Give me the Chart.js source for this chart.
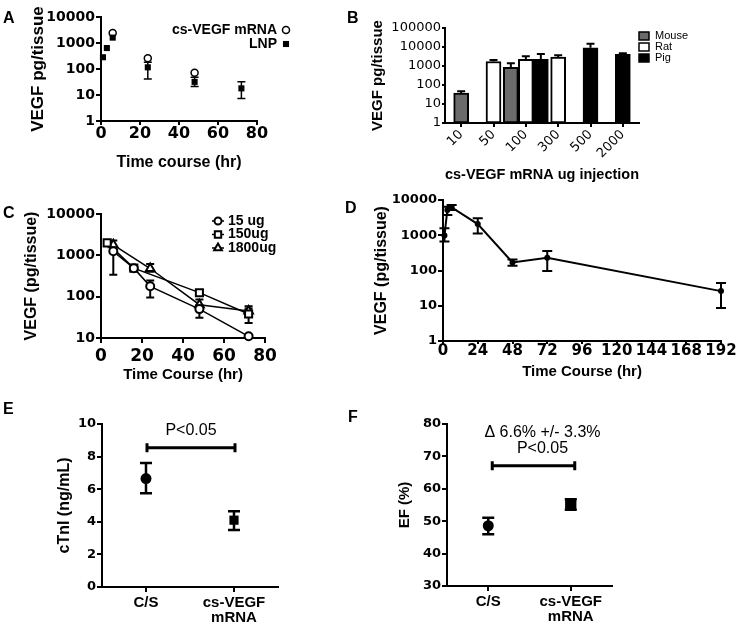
<!DOCTYPE html>
<html>
<head>
<meta charset="utf-8">
<script src="https://cdn.jsdelivr.net/npm/chart.js@4.4.1/dist/chart.umd.min.js"></script>
<style>
  html, body { margin: 0; padding: 0; background: #fff; overflow: hidden; }
  #wrap { position: relative; width: 736px; height: 627px; overflow: hidden; background: #fff; }
  #wrap canvas { position: absolute; left: 0; top: 0; }
  .tag { position: absolute; font: bold 16px Arial, "Liberation Sans", sans-serif; line-height: 16px; color: #000; }
</style>
</head>
<body>
<div id="wrap">
  <canvas id="cA" width="736" height="627"></canvas>
  <canvas id="cB" width="736" height="627"></canvas>
  <canvas id="cC" width="736" height="627"></canvas>
  <canvas id="cD" width="760" height="627"></canvas>
  <canvas id="cE" width="736" height="627"></canvas>
  <canvas id="cF" width="736" height="627"></canvas>
  <div class="tag" style="left:3px;top:10px">A</div>
  <div class="tag" style="left:347px;top:10px">B</div>
  <div class="tag" style="left:3px;top:205px">C</div>
  <div class="tag" style="left:345px;top:200px">D</div>
  <div class="tag" style="left:3px;top:401px">E</div>
  <div class="tag" style="left:348px;top:409px">F</div>
</div>
<script>
// ---- A: time course, two formulations ----
var timeA = [1, 3, 6, 24, 48, 72];
var lnpA = [283, 640, 1610, 116, 32, 18];
var lnpLoA = [null, null, null, 41, 21, 7.4];
var lnpHiA = [null, null, null, 182, 48, 32];
var mrnaTimeA = [6, 24, 48];
var mrnaA = [2450, 260, 72];
var logTicksA = [1, 10, 100, 1000, 10000];

// ---- B: dose per species ----
var dosesB = ['10', '50', '100', '300', '500', '2000'];
var mouseB = [38, null, 860, null, null, null];
var mouseHiB = [47, null, 1400, null, null, null];
var ratB = [null, 1730, 2230, 2950, null, null];
var ratHiB = [null, 2040, 3220, 3640, null, null];
var pigB = [null, null, 2230, null, 9100, 4130];
var pigHiB = [null, null, 4300, null, 14800, 4650];
var logTicksB = [1, 10, 100, 1000, 10000, 100000];

// ---- C: three doses over time ----
var time15C = [6, 16, 24, 48, 72];
var v15C = [1250, 490, 178, 50, 11];
var lo15C = [340, 420, 95, 31, null];
var hi15C = [1600, 560, 245, 63, null];
var time150C = [3, 16, 48, 72];
var v150C = [2000, 490, 125, 38];
var lo150C = [1800, 420, 105, 23];
var hi150C = [2200, 570, 145, 52];
var time1800C = [6, 24, 48, 72];
var v1800C = [1800, 480, 64, 45];
var lo1800C = [1400, 400, 48, 36];
var hi1800C = [2300, 620, 85, 59];
var logTicksC = [10, 100, 1000, 10000];

// ---- D: long time course ----
var timeD = [1, 3, 6, 24, 48, 72, 192];
var vegfD = [980, 5200, 6200, 2080, 170, 230, 26];
var loD = [660, 3750, 5200, 1130, 136, 96, 8.6];
var hiD = [1580, 6450, 7200, 3020, 205, 355, 44];
var logTicksD = [1, 10, 100, 1000, 10000];

// ---- E / F: control vs treated ----
var groups = ['C/S', 'cs-VEGF mRNA'];
var ctniE = [6.65, 4.1];
var ctniLoE = [5.75, 3.5];
var ctniHiE = [7.6, 4.65];
var efF = [48.6, 55.2];
var efLoF = [46, 53.5];
var efHiF = [51.1, 56.8];

var SANS = 'Arial, "Liberation Sans", sans-serif';
var NUM = '"DejaVu Sans", sans-serif';

Chart.defaults.font.family = SANS;
Chart.defaults.color = '#000';
Chart.defaults.animation = false;
Chart.defaults.responsive = false;
Chart.defaults.events = [];
Chart.defaults.plugins.legend.display = false;
Chart.defaults.plugins.tooltip.enabled = false;

function pts(xs, ys) {
  return xs.map(function (x, i) { return { x: x, y: ys[i] }; });
}

function mark(ctx, style, r, x, y) {
  ctx.beginPath();
  if (style === 'rect') {
    var h = r * Math.SQRT1_2;
    ctx.rect(x - h, y - h, 2 * h, 2 * h);
  } else if (style === 'triangle') {
    ctx.moveTo(x, y - r);
    ctx.lineTo(x + r * 0.866, y + r * 0.5);
    ctx.lineTo(x - r * 0.866, y + r * 0.5);
    ctx.closePath();
  } else {
    ctx.arc(x, y, r, 0, Math.PI * 2);
  }
  ctx.fill();
  ctx.stroke();
}

// error bars read from errLo / errHi on each dataset
var errorBars = {
  id: 'errorBars',
  beforeDatasetsDraw: function (chart) {
    var ctx = chart.ctx;
    chart.data.datasets.forEach(function (ds, di) {
      if (!ds.errHi) return;
      var meta = chart.getDatasetMeta(di);
      var ys = chart.scales[meta.yAxisID];
      var c = ds.errCap || 4;
      ctx.save();
      ctx.strokeStyle = '#000';
      ctx.lineWidth = ds.errWidth || 1.5;
      meta.data.forEach(function (el, i) {
        var d = ds.data[i];
        var val = (d !== null && typeof d === 'object') ? d.y : d;
        if (val == null || ds.errHi[i] == null) return;
        var lo = ds.errLo && ds.errLo[i] != null ? ds.errLo[i] : val;
        var y1 = ys.getPixelForValue(lo), y2 = ys.getPixelForValue(ds.errHi[i]);
        ctx.beginPath();
        ctx.moveTo(el.x, y1); ctx.lineTo(el.x, y2);
        ctx.moveTo(el.x - c, y2); ctx.lineTo(el.x + c, y2);
        if (lo !== val) { ctx.moveTo(el.x - c, y1); ctx.lineTo(el.x + c, y1); }
        ctx.stroke();
      });
      ctx.restore();
    });
  }
};

// small hand-placed keys in the style of the figure
var keyBox = {
  id: 'keyBox',
  afterDraw: function (chart, args, o) {
    if (!o.kind) return;
    var ctx = chart.ctx;
    ctx.save();
    ctx.font = o.font;
    ctx.textBaseline = 'middle';
    chart.data.datasets.forEach(function (ds, i) {
      var y = o.y + i * o.gap;
      ctx.lineWidth = 1.5;
      ctx.strokeStyle = '#000';
      if (o.kind === 'box') {
        ctx.fillStyle = ds.backgroundColor;
        ctx.fillRect(o.x, y - 4, 10, 8);
        ctx.strokeRect(o.x, y - 4, 10, 8);
        ctx.fillStyle = '#000';
        ctx.textAlign = 'left';
        ctx.fillText(ds.label, o.x + 16, y);
      } else if (o.kind === 'right') {
        ctx.fillStyle = '#000';
        ctx.textAlign = 'right';
        ctx.fillText(ds.label, o.x, y);
        ctx.fillStyle = ds.pointBackgroundColor;
        ctx.lineWidth = ds.pointBorderWidth || 0.01;
        mark(ctx, ds.pointStyle, ds.pointRadius, o.x + 9, y);
      } else {
        ctx.beginPath();
        ctx.moveTo(o.x - 6, y); ctx.lineTo(o.x + 6, y);
        ctx.stroke();
        ctx.fillStyle = '#fff';
        ctx.lineWidth = 2;
        mark(ctx, ds.pointStyle, ds.pointRadius - 0.5, o.x, y);
        ctx.fillStyle = '#000';
        ctx.textAlign = 'left';
        ctx.fillText(ds.label, o.x + 10, y);
      }
    });
    ctx.restore();
  }
};

// bracket between the two groups with its text above
var sigBar = {
  id: 'sigBar',
  afterDatasetsDraw: function (chart, args, o) {
    if (o.level == null) return;
    var ctx = chart.ctx, x = chart.scales.x, y = chart.scales.y;
    var x1 = x.getPixelForValue(0) + o.dx, x2 = x.getPixelForValue(1) + o.dx;
    var yy = y.getPixelForValue(o.level);
    ctx.save();
    ctx.strokeStyle = '#000';
    ctx.lineWidth = 3;
    ctx.beginPath();
    ctx.moveTo(x1, yy); ctx.lineTo(x2, yy);
    ctx.moveTo(x1, yy - 4.5); ctx.lineTo(x1, yy + 4.5);
    ctx.moveTo(x2, yy - 4.5); ctx.lineTo(x2, yy + 4.5);
    ctx.stroke();
    ctx.fillStyle = '#000';
    ctx.font = o.font;
    ctx.textAlign = 'center';
    ctx.textBaseline = 'middle';
    var n = o.text.length;
    o.text.forEach(function (t, i) {
      ctx.fillText(t, (x1 + x2) / 2 + o.textDx, yy - 17 - (n - 1 - i) * 16);
    });
    ctx.restore();
  }
};

function axis(o) {
  var a = {
    type: o.type,
    offset: !!o.offset,
    border: { display: true, color: '#000', width: 2 },
    grid: { drawOnChartArea: false, drawTicks: true, tickLength: o.tick == null ? 5 : o.tick, color: '#000', lineWidth: 2, offset: false },
    ticks: { font: o.font, padding: o.pad == null ? 2 : o.pad, color: '#000', autoSkip: false },
    title: o.title ? { display: true, text: o.title, font: o.titleFont, padding: 0, color: '#000' } : { display: false }
  };
  if (o.min != null) a.min = o.min;
  if (o.max != null) a.max = o.max;
  if (o.step) a.ticks.stepSize = o.step;
  var rot = o.rot == null ? 0 : o.rot;
  a.ticks.minRotation = rot;
  a.ticks.maxRotation = rot;
  if (o.logTicks) {
    a.afterBuildTicks = function (s) { s.ticks = o.logTicks.map(function (v) { return { value: v }; }); };
    a.ticks.callback = function (v) { return String(v); };
  }
  if (o.labels) a.ticks.callback = function (v, i) { return o.labels[i].split(' '); };
  if (o.w != null) a.afterFit = function (s) { s.width = o.w; };
  if (o.h != null) a.afterFit = function (s) { s.height = o.h; };
  return a;
}

var boldNum = function (size) { return { family: NUM, weight: 'bold', size: size, lineHeight: 1 }; };
var boldSans = function (size) { return { family: SANS, weight: 'bold', size: size }; };

// A
new Chart(document.getElementById('cA'), {
  type: 'scatter',
  data: {
    datasets: [
      { label: 'cs-VEGF mRNA', order: 1, data: pts(mrnaTimeA, mrnaA), pointStyle: 'circle', pointRadius: 3.5,
        pointBackgroundColor: '#fff', pointBorderColor: '#000', pointBorderWidth: 1.5, clip: false },
      { label: 'LNP', order: 0, data: pts(timeA, lnpA), errLo: lnpLoA, errHi: lnpHiA, errCap: 4, errWidth: 1.5,
        pointStyle: 'rect', pointRadius: 4.3, pointBackgroundColor: '#000', pointBorderColor: '#000', pointBorderWidth: 0, clip: false }
    ]
  },
  options: {
    layout: { padding: { left: 28, top: 17, right: 736 - 257, bottom: 627 - 172 } },
    scales: {
      x: axis({ type: 'linear', min: 0, max: 80, step: 20, font: boldNum(16), pad: 1, tick: 4, h: 172 - 121,
        title: 'Time course (hr)', titleFont: boldSans(16) }),
      y: axis({ type: 'logarithmic', min: 1, max: 10000, logTicks: logTicksA, font: boldNum(14), pad: 1, w: 101 - 28,
        title: 'VEGF pg/tissue', titleFont: boldSans(17) })
    },
    plugins: { keyBox: { kind: 'right', x: 277, y: 30, gap: 14, font: 'bold 14px ' + SANS } }
  },
  plugins: [errorBars, keyBox]
});

// B
new Chart(document.getElementById('cB'), {
  type: 'bar',
  data: {
    labels: dosesB,
    datasets: [
      { label: 'Mouse', data: mouseB, errHi: mouseHiB, backgroundColor: '#6b6b6b' },
      { label: 'Rat', data: ratB, errHi: ratHiB, backgroundColor: '#fff' },
      { label: 'Pig', data: pigB, errHi: pigHiB, backgroundColor: '#000' }
    ].map(function (d) {
      return Object.assign(d, { borderColor: '#000', borderWidth: 2, borderSkipped: false,
        barThickness: 15, skipNull: true, errCap: 4, errWidth: 2 });
    })
  },
  options: {
    layout: { padding: { left: 369, top: 28, right: 736 - 639, bottom: 627 - 184 } },
    scales: {
      x: axis({ type: 'category', offset: true, rot: 45, tick: 4, pad: 0, h: 184 - 123,
        font: { family: NUM, size: 13 }, title: 'cs-VEGF mRNA ug injection', titleFont: boldSans(15) }),
      y: axis({ type: 'logarithmic', min: 1, max: 100000, logTicks: logTicksB, tick: 3, pad: 1, w: 445 - 369,
        font: { family: NUM, size: 13, lineHeight: 1 }, title: 'VEGF pg/tissue', titleFont: boldSans(15) })
    },
    plugins: { keyBox: { kind: 'box', x: 639, y: 36, gap: 11, font: '11px ' + SANS } }
  },
  plugins: [errorBars, keyBox]
});

// C
var lineStyleC = { showLine: true, borderColor: '#000', borderWidth: 1.5, pointRadius: 4,
  pointBackgroundColor: '#fff', pointBorderColor: '#000', pointBorderWidth: 2, errCap: 4, errWidth: 2, clip: false };
new Chart(document.getElementById('cC'), {
  type: 'scatter',
  data: {
    datasets: [
      Object.assign({ label: '15 ug', data: pts(time15C, v15C), errLo: lo15C, errHi: hi15C, pointStyle: 'circle' }, lineStyleC),
      Object.assign({ label: '150ug', data: pts(time150C, v150C), errLo: lo150C, errHi: hi150C, pointStyle: 'rect' }, lineStyleC, { pointRadius: 5 }),
      Object.assign({ label: '1800ug', data: pts(time1800C, v1800C), errLo: lo1800C, errHi: hi1800C, pointStyle: 'triangle' }, lineStyleC, { pointRadius: 5 })
    ]
  },
  options: {
    layout: { padding: { left: 22, top: 214, right: 736 - 265, bottom: 627 - 384 } },
    scales: {
      x: axis({ type: 'linear', min: 0, max: 80, step: 20, font: boldNum(17), pad: 5, h: 384 - 338,
        title: 'Time Course (hr)', titleFont: boldSans(15) }),
      y: axis({ type: 'logarithmic', min: 10, max: 10000, logTicks: logTicksC, font: boldNum(14), pad: 1, w: 101 - 22,
        title: 'VEGF (pg/tissue)', titleFont: boldSans(16) })
    },
    plugins: { keyBox: { kind: 'line', x: 218, y: 221, gap: 13.5, font: 'bold 14px ' + SANS } }
  },
  plugins: [errorBars, keyBox]
});

// D
new Chart(document.getElementById('cD'), {
  type: 'scatter',
  data: {
    datasets: [{ data: pts(timeD, vegfD), errLo: loD, errHi: hiD, errCap: 5, errWidth: 2, showLine: true,
      borderColor: '#000', borderWidth: 2, pointStyle: 'circle', pointRadius: 3, pointBackgroundColor: '#000',
      pointBorderWidth: 0, clip: false }]
  },
  options: {
    layout: { padding: { left: 372, top: 200, right: 760 - 721, bottom: 627 - 381 } },
    scales: {
      x: axis({ type: 'linear', min: 0, max: 192, step: 24, font: boldNum(15), pad: 0, tick: 3, h: 381 - 341,
        title: 'Time Course (hr)', titleFont: boldSans(15) }),
      y: axis({ type: 'logarithmic', min: 1, max: 10000, logTicks: logTicksD, font: boldNum(13), pad: 1, w: 443 - 372,
        title: 'VEGF (pg/tissue)', titleFont: boldSans(16) })
    }
  },
  plugins: [errorBars]
});

// E
new Chart(document.getElementById('cE'), {
  type: 'line',
  data: {
    labels: groups,
    datasets: [{ data: ctniE, errLo: ctniLoE, errHi: ctniHiE, errCap: 6, errWidth: 2.5, showLine: false,
      pointStyle: ['circle', 'rect'], pointRadius: [5.5, 6.5], pointBackgroundColor: '#000', pointBorderWidth: 0, clip: false }]
  },
  options: {
    layout: { padding: { left: 55, top: 424, right: 736 - 278, bottom: 0 } },
    scales: {
      x: axis({ type: 'category', offset: true, labels: groups, font: { family: SANS, weight: 'bold', size: 15, lineHeight: 1 },
        pad: 3, h: 627 - 587 }),
      y: axis({ type: 'linear', min: 0, max: 10, step: 2, font: boldNum(13), pad: 1, w: 102 - 55,
        title: 'cTnI (ng/mL)', titleFont: boldSans(16) })
    },
    plugins: { sigBar: { level: 8.55, dx: 1, textDx: 0, text: ['P<0.05'], font: '16px ' + SANS } }
  },
  plugins: [errorBars, sigBar]
});

// F
new Chart(document.getElementById('cF'), {
  type: 'line',
  data: {
    labels: groups,
    datasets: [{ data: efF, errLo: efLoF, errHi: efHiF, errCap: 6, errWidth: 2.5, showLine: false,
      pointStyle: ['circle', 'rect'], pointRadius: [5.5, 8], pointBackgroundColor: '#000', pointBorderWidth: 0, clip: false }]
  },
  options: {
    layout: { padding: { left: 396, top: 424, right: 736 - 612, bottom: 0 } },
    scales: {
      x: axis({ type: 'category', offset: true, labels: groups, font: { family: SANS, weight: 'bold', size: 15, lineHeight: 1 },
        pad: 3, h: 627 - 586 }),
      y: axis({ type: 'linear', min: 30, max: 80, step: 10, font: boldNum(13), pad: 1, w: 447 - 396,
        title: 'EF (%)', titleFont: boldSans(15) })
    },
    plugins: { sigBar: { level: 67.1, dx: 4, textDx: 9, text: ['\u0394 6.6% +/- 3.3%', 'P<0.05'], font: '16px ' + SANS } }
  },
  plugins: [errorBars, sigBar]
});
</script>
</body>
</html>
